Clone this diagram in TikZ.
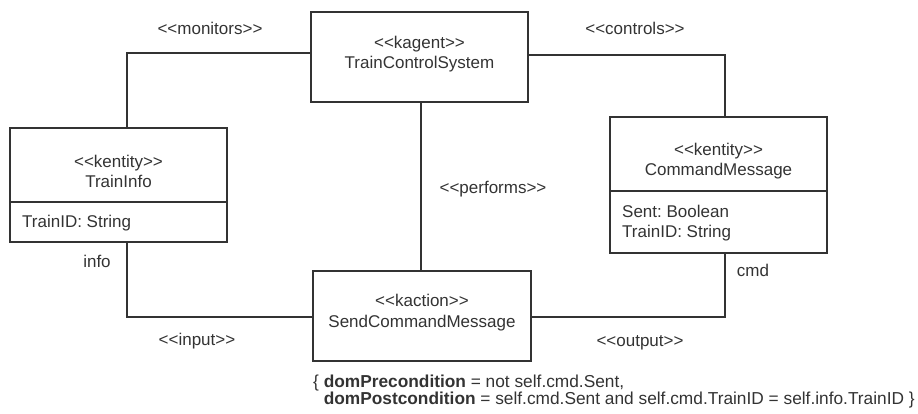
\documentclass[tikz,border=0pt]{standalone}
\usepackage{fontspec}
\setmainfont{Liberation Sans}
\definecolor{ink}{HTML}{333333}
\frenchspacing
\begin{document}
\begin{tikzpicture}[x=1pt,y=-1pt,
  every node/.style={font=\fontsize{17}{20}\selectfont, text=ink},
  box/.style={draw=ink, line width=1.5pt, inner sep=0pt, outer sep=0pt},
  conn/.style={draw=ink, line width=1.5pt},
  lbl/.style={anchor=base, inner sep=0pt},
  lblw/.style={anchor=base west, inner sep=0pt},
  cons/.style={anchor=base west, inner sep=0pt, font=\fontsize{17.3}{20}\selectfont}]
\useasboundingbox (0,0) rectangle (918,413);

% boxes
\node[box, minimum width=217pt, minimum height=90pt] (tcs) at (419.5,57) {};
\node[box, minimum width=217pt, minimum height=114pt] (ti) at (118.5,185) {};
\node[box, minimum width=217pt, minimum height=136pt] (cm) at (718.5,185) {};
\node[box, minimum width=218pt, minimum height=90pt] (scm) at (422,316) {};

% compartment dividers
\coordinate (tidl) at (10,202);
\coordinate (tidr) at (227,202);
\draw[conn] (tidl) -- (tidr);
\coordinate (cmdl) at (610,191);
\coordinate (cmdr) at (827,191);
\draw[conn] (cmdl) -- (cmdr);

% box texts
\node[lbl] (tcs1) at (419.5,48) {<{}<kagent>{}>};
\node[lbl] (tcs2) at (419.5,68) {TrainControlSystem};
\node[lbl] (ti1) at (118.5,167) {<{}<kentity>{}>};
\node[lbl] (ti2) at (118.5,187) {TrainInfo};
\node[lblw] (ti3) at (22,227) {TrainID: String};
\node[lbl] (cm1) at (718.5,155) {<{}<kentity>{}>};
\node[lbl] (cm2) at (718.5,175) {CommandMessage};
\node[lblw] (cm3) at (622,217) {Sent: Boolean};
\node[lblw] (cm4) at (622,237) {TrainID: String};
\node[lbl] (scm1) at (422,306.5) {<{}<kaction>{}>};
\node[lbl] (scm2) at (422,327) {SendCommandMessage};

% connectors
\coordinate (mon) at (127,53);
\draw[conn] (tcs.west |- mon) -- (mon) -- (ti.north -| mon);
\coordinate (ctl) at (725,55);
\draw[conn] (tcs.east |- ctl) -- (ctl) -- (cm.north -| ctl);
\coordinate (pf) at (421,180);
\draw[conn] (tcs.south -| pf) -- (scm.north -| pf);
\coordinate (inp) at (127,317);
\draw[conn] (ti.south -| inp) -- (inp) -- (scm.west |- inp);
\coordinate (outp) at (725,317);
\draw[conn] (scm.east |- outp) -- (outp) -- (cm.south -| outp);

% connector labels
\node[lbl] (lmon) at (210,34) {<{}<monitors>{}>};
\node[lbl] (lctl) at (635,34.5) {<{}<controls>{}>};
\node[lbl] (lpf) at (493,193) {<{}<performs>{}>};
\node[lbl] (linfo) at (97,267) {info};
\node[lbl] (linp) at (197,345) {<{}<input>{}>};
\node[lbl] (lcmd) at (753,276) {cmd};
\node[lbl] (lout) at (640,346) {<{}<output>{}>};

% constraint
\node[cons] (c1) at (313,387.5) {\{ \textbf{domPrecondition} = not self.cmd.Sent,};
\node[cons] (c2) at (313,404) {\hphantom{\{ }\textbf{domPostcondition} = self.cmd.Sent and self.cmd.TrainID = self.info.TrainID \}};
\end{tikzpicture}
\end{document}
